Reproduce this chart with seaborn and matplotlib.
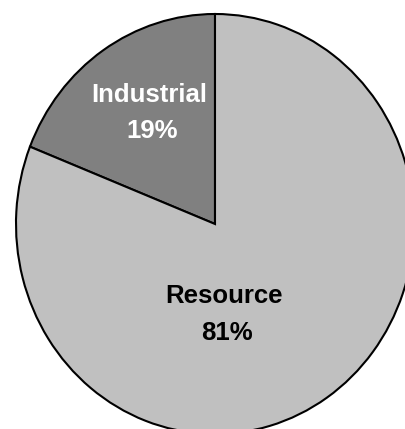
import matplotlib
matplotlib.use("Agg")
import matplotlib.pyplot as plt
import seaborn as sns

# data
sectors = ["Industrial", "Resource"]
shares = [19, 81]
colors = ["#808080", "#c0c0c0"]
text_colors = ["white", "black"]

W, H = 405, 429

sns.set_style("white")
plt.rcParams["font.family"] = ["Liberation Sans", "DejaVu Sans"]

fig = plt.figure(figsize=(W / 100, H / 100), dpi=100)
ax = fig.add_axes([0, 0, 1, 1])

palette = sns.color_palette(colors)
ax.pie(shares, colors=palette, startangle=90, counterclock=True,
       wedgeprops=dict(edgecolor="black", linewidth=1.5))

# pie centre at (215, 224) px, radii 199 x 210 px; the circle is clipped at right and bottom
cx, cy, rx, ry = 215, 224, 199, 210
ax.set_aspect("auto")
ax.set_xlim(-cx / rx, (W - cx) / rx)
ax.set_ylim(-(H - cy) / ry, cy / ry)
ax.axis("off")

# label positions (pixels from top-left): name baseline, percent baseline
label_pos = [(149, 102, 138), (224, 303, 340)]
for name, val, tc, (px, b1, b2) in zip(sectors, shares, text_colors, label_pos):
    fig.text(px / W, 1 - b1 / H, name, ha="center", va="baseline",
             fontsize=18.5, fontweight="bold", color=tc)
    fig.text((px + 3) / W, 1 - b2 / H, f"{val}%", ha="center", va="baseline",
             fontsize=18.5, fontweight="bold", color=tc)

fig.savefig("out.png", dpi=100, facecolor="white")
